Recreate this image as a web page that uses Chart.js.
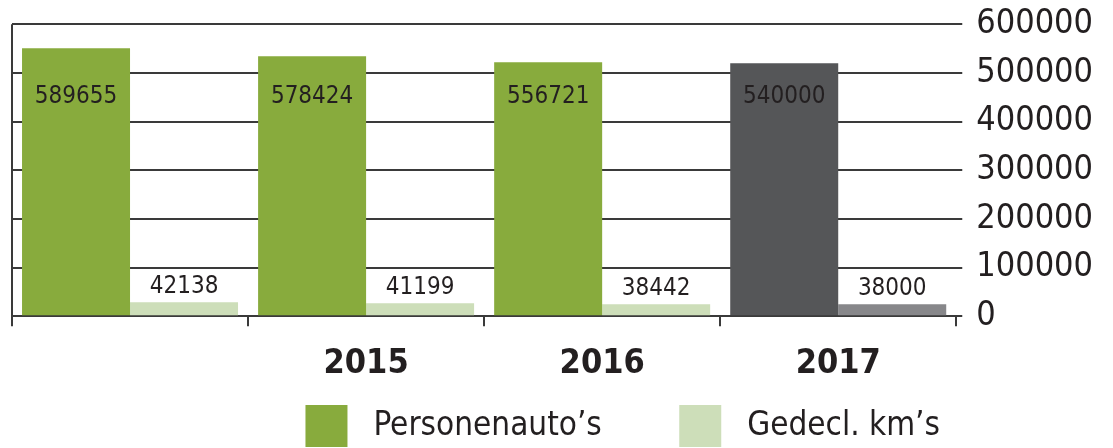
<!DOCTYPE html>
<html>
<head>
<meta charset="utf-8">
<script src="https://cdn.jsdelivr.net/npm/chart.js@4.4.0/dist/chart.umd.min.js"></script>
<style>
html, body { margin: 0; padding: 0; background: #fff; }
#wrap { width: 1113px; height: 448px; }
</style>
</head>
<body>
<div id="wrap"><canvas id="myChart"></canvas></div>
<script>
// categories (the first group has no year under it)
const jaren = ['', '2015', '2016', '2017'];
// bar heights as drawn in the picture (not drawn to scale with the printed numbers)
const personenauto = [550500, 534000, 521600, 519600];
const gedeclKm = [28900, 26800, 24700, 24700];
// numbers printed on / above the bars
const tekstPersonenauto = ['589655', '578424', '556721', '540000'];
const tekstGedeclKm = ['42138', '41199', '38442', '38000'];
// y axis
const yMin = 0;
const yMax = 600000;
const yStap = 100000;

const groen = '#88ab3d';
const lichtGroen = '#cddeb9';
const donkerGrijs = '#555658';
const grijs = '#87878a';
const tekstKleur = '#231f20';
const lijnKleur = '#3a3a3a';

// plugin om de getallen bij de staven te zetten
const waardeLabels = {
    id: 'waardeLabels',
    afterDatasetsDraw(chart) {
        const ctx = chart.ctx;
        const top = chart.chartArea.top;
        ctx.save();
        ctx.font = '24px "DejaVu Sans Condensed"';
        ctx.fillStyle = tekstKleur;
        ctx.textAlign = 'center';
        ctx.textBaseline = 'middle';
        chart.getDatasetMeta(0).data.forEach((bar, i) => {
            ctx.fillText(tekstPersonenauto[i], bar.x, top + 73);
        });
        ctx.textBaseline = 'alphabetic';
        chart.getDatasetMeta(1).data.forEach((bar, i) => {
            ctx.fillText(tekstGedeclKm[i], bar.x, bar.y - 9);
        });
        ctx.restore();
    }
};

// legenda: een leeg item vooraan zodat de legenda iets naar rechts staat, zoals in het origineel
function legendaItems(chart) {
    const items = Chart.defaults.plugins.legend.labels.generateLabels(chart);
    items[0].text = ' ' + items[0].text + '        ';
    items[1].text = ' ' + items[1].text;
    const leeg = {
        text: '       ',
        fillStyle: 'rgba(0,0,0,0)',
        strokeStyle: 'rgba(0,0,0,0)',
        lineWidth: 0,
        hidden: false,
        datasetIndex: -1
    };
    return [leeg].concat(items);
}

const ctx = document.getElementById('myChart').getContext('2d');
const myChart = new Chart(ctx, {
    type: 'bar',
    data: {
        labels: jaren,
        datasets: [{
            label: 'Personenauto’s',
            data: personenauto,
            backgroundColor: c => c.dataIndex === 3 ? donkerGrijs : groen,
            borderWidth: 0
        }, {
            label: 'Gedecl. km’s',
            data: gedeclKm,
            backgroundColor: c => c.dataIndex === 3 ? grijs : lichtGroen,
            borderWidth: 0
        }]
    },
    options: {
        responsive: true,
        maintainAspectRatio: false,
        animation: false,
        categoryPercentage: 0.915,
        barPercentage: 1,
        layout: { padding: { left: 12, right: 6, top: 0, bottom: -9 } },
        plugins: {
            legend: {
                position: 'bottom',
                onClick: null,
                labels: {
                    boxWidth: 42,
                    boxHeight: 42,
                    padding: 2,
                    color: tekstKleur,
                    font: { family: 'DejaVu Sans Condensed', size: 33 },
                    generateLabels: legendaItems
                }
            },
            tooltip: { enabled: false }
        },
        scales: {
            x: {
                grid: {
                    offset: true,
                    lineWidth: 2,
                    color: c => c.index === 0 ? lijnKleur : 'rgba(0,0,0,0)',
                    tickColor: c => c.index === 4 ? 'rgba(0,0,0,0)' : lijnKleur,
                    tickLength: 10
                },
                border: { color: lijnKleur, width: 2 },
                ticks: {
                    color: tekstKleur,
                    padding: 18,
                    font: { family: 'DejaVu Sans Condensed', size: 34, weight: 'bold' }
                }
            },
            y: {
                position: 'right',
                min: yMin,
                max: yMax,
                grid: { color: lijnKleur, lineWidth: 2, tickLength: 6 },
                border: { display: false },
                ticks: {
                    stepSize: yStap,
                    autoSkip: false,
                    padding: 14,
                    color: tekstKleur,
                    font: { family: 'DejaVu Sans Condensed', size: 34, lineHeight: 0.6 },
                    callback: v => String(v)
                }
            }
        }
    },
    plugins: [waardeLabels]
});
</script>
</body>
</html>
